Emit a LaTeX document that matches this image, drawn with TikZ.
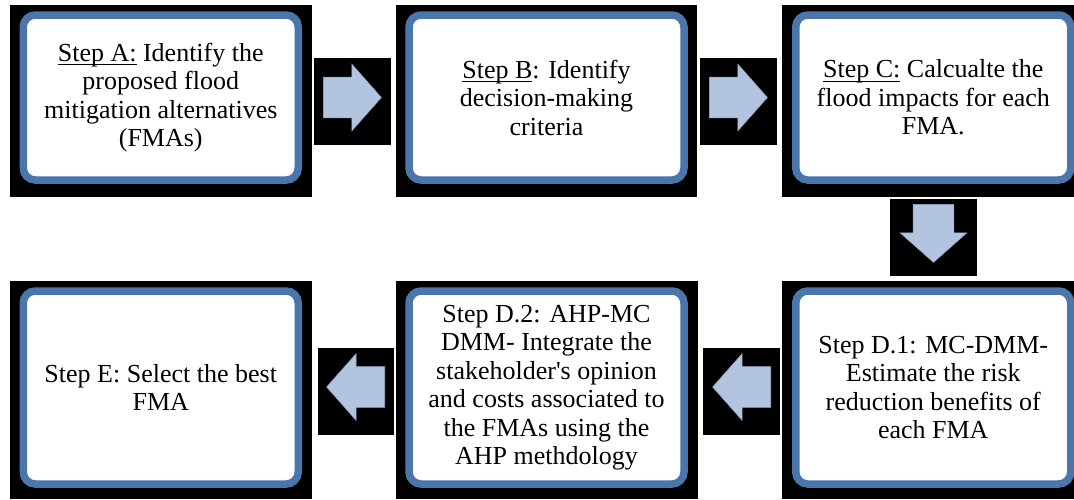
\documentclass[tikz,border=0pt]{standalone}
\usepackage{fontspec}
\setmainfont{Liberation Serif}
\usetikzlibrary{shapes.arrows}
\definecolor{stepblue}{RGB}{74,118,172}
\definecolor{arrowfill}{RGB}{179,196,223}
\definecolor{arrowline}{RGB}{150,170,204}
% underline through the descenders
\newcommand{\stepul}[1]{\setbox0\hbox{#1}\rlap{\rule[-4pt]{\wd0}{1.1pt}}\box0\relax}

\begin{document}
\begin{tikzpicture}[x=1pt, y=-1pt,
    stepnode/.style={draw=stepblue, fill=white, line width=7.5pt, rounded corners=12pt,
      minimum width=275pt, align=center, inner sep=0pt,
      font=\fontsize{26}{28.5}\selectfont},
    toprow/.style={stepnode, minimum height=165pt},
    botrow/.style={stepnode, minimum height=193pt},
    blockarrow/.style={single arrow, fill=arrowfill, draw=arrowline, line width=0.6pt,
      inner xsep=0pt, inner ysep=20pt, single arrow head extend=13pt,
      single arrow tip angle=97, minimum height=58pt, anchor=tail}]
    \useasboundingbox (0,0) rectangle (1074,499);

    % black backgrounds
    \fill (10,5) rectangle (312,197);
    \fill (396,5) rectangle (697,197);
    \fill (782,5) rectangle (1074,197);
    \fill (10,281) rectangle (312,499);
    \fill (396,281) rectangle (698,499);
    \fill (782,281) rectangle (1074,499);
    \fill (314,58) rectangle (391,145);
    \fill (700,58) rectangle (777,145);
    \fill (890,199) rectangle (977,276);
    \fill (318,348) rectangle (394,435);
    \fill (703,348) rectangle (780,435);

    % steps
    \node[toprow] (stepA) at (160.75,97.5) {\stepul{Step A:} Identify the\\proposed flood\\mitigation alternatives\\(FMAs)};
    \node[toprow] (stepB) at (546.5,97.5) {\stepul{Step B}: Identify\\decision-making\\criteria};
    \node[toprow] (stepC) at (933.25,97.5) {\stepul{Step C:} Calcualte the\\flood impacts for each\\FMA.};
    \node[botrow] (stepD1) at (933.25,387.5) {Step D.1: MC-DMM-\\Estimate the risk\\reduction benefits of\\each FMA};
    \node[botrow] (stepD2) at (546.5,387.5) {Step D.2: AHP-MC\\DMM- Integrate the\\stakeholder\textquotesingle s opinion\\and costs associated to\\the FMAs using the\\AHP methdology};
    \node[botrow] (stepE) at (160.75,387.5) {Step E: Select the best\\FMA};

    % block arrows
    \node[blockarrow] (AtoB) at (323,97.5) {};
    \node[blockarrow] (BtoC) at (709,97.5) {};
    \node[blockarrow, shape border rotate=270, inner xsep=20pt, inner ysep=0pt] (CtoD1) at (933.5,204) {};
    \node[blockarrow, shape border rotate=180] (D1toD2) at (771,387) {};
    \node[blockarrow, shape border rotate=180] (D2toE) at (385,387) {};
\end{tikzpicture}
\end{document}
